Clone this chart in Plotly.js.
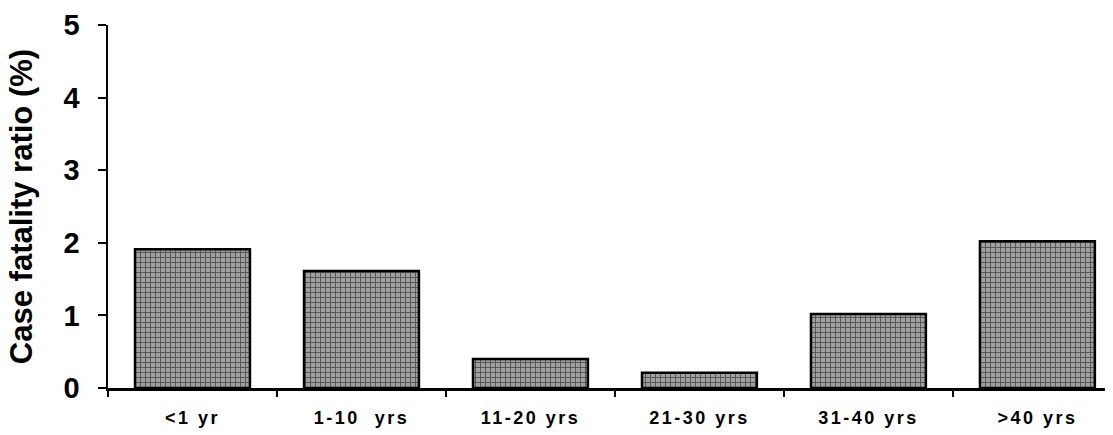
<!DOCTYPE html>
<html>
<head>
<meta charset="utf-8">
<script src="https://cdn.plot.ly/plotly-3.0.1.min.js"></script>
<style>
html,body{margin:0;padding:0;background:#fff;}
#chart{width:1113px;height:435px;}
.xtick text{letter-spacing:2.5px;}
</style>
</head>
<body>
<div id="chart"></div>
<script>
const categories = ["<1 yr", "1-10  yrs", "11-20 yrs", "21-30 yrs", "31-40 yrs", ">40 yrs"];
const cfr = [1.91, 1.61, 0.40, 0.21, 1.02, 2.02];
const yTicks = [0, 1, 2, 3, 4, 5];

const trace = {
  type: "bar",
  x: categories,
  y: cfr,
  marker: {
    color: "#8f8f8f",
    line: {color: "#000", width: 2.5},
    pattern: {shape: "+", fgcolor: "#4a4a4a", bgcolor: "#a0a0a0", size: 5, solidity: 0.3}
  },
  hoverinfo: "skip"
};

const layout = {
  width: 1113, height: 435,
  margin: {l: 108, r: 8, t: 25, b: 47},
  paper_bgcolor: "#fff", plot_bgcolor: "#fff",
  bargap: 0.32,
  showlegend: false,
  font: {family: "Liberation Sans, Arial, sans-serif", color: "#000"},
  xaxis: {
    type: "category",
    range: [-0.5, 5.4],
    showline: true, linecolor: "#000", linewidth: 2.5,
    ticks: "outside", tickson: "boundaries", ticklen: 6, tickwidth: 2, tickcolor: "#000",
    tickfont: {size: 18, family: "Liberation Sans, Arial, sans-serif", weight: "bold"},
    ticklabelstandoff: 12,
    showgrid: false, zeroline: false, fixedrange: true
  },
  yaxis: {
    range: [0, 5],
    tickvals: yTicks,
    showline: true, linecolor: "#000", linewidth: 2.5,
    ticks: "outside", ticklen: 8, tickwidth: 2, tickcolor: "#000",
    tickfont: {size: 29, family: "Liberation Sans, Arial, sans-serif", weight: "bold"},
    ticklabelstandoff: 12,
    showgrid: false, zeroline: false, fixedrange: true,
    title: {text: "Case fatality ratio (%)", font: {size: 31, family: "Liberation Sans, Arial, sans-serif", weight: "bold"}, standoff: 22}
  }
};

Plotly.newPlot("chart", [trace], layout, {displayModeBar: false, staticPlot: true});
</script>
</body>
</html>
